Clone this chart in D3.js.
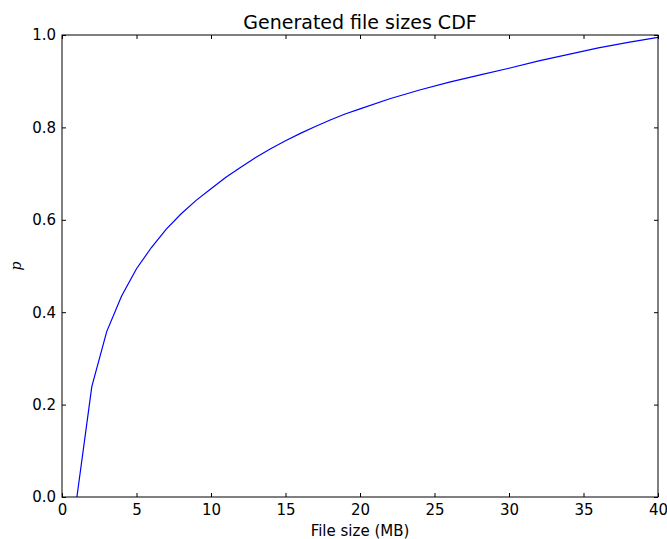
<!DOCTYPE html>
<html>
<head>
<meta charset="utf-8">
<script src="https://cdn.jsdelivr.net/npm/d3@7"></script>
<style>
  body { margin: 0; background: #fff; }
  svg text { font-family: "DejaVu Sans", sans-serif; fill: #000; }
</style>
</head>
<body>
<div id="chartArea"></div>
<script>
// file size in MB and cumulative probability
const sizes = [1, 2, 3, 4, 5, 6, 7, 8, 9, 10, 11, 12, 13, 14, 15, 16, 17, 18, 19, 20,
    22, 24, 26, 28, 30, 32, 34, 36, 38, 40];
const probs = [0, 0.239, 0.358, 0.435, 0.494, 0.540, 0.580, 0.613, 0.642, 0.667, 0.692,
    0.714, 0.735, 0.754, 0.771, 0.787, 0.802, 0.816, 0.829, 0.840,
    0.862, 0.881, 0.898, 0.913, 0.928, 0.944, 0.958, 0.972, 0.984, 0.995];
const xTicks = [0, 5, 10, 15, 20, 25, 30, 35, 40];
const yTicks = [0, 0.2, 0.4, 0.6, 0.8, 1.0];

const margin = { top: 35, right: 9, bottom: 42, left: 62 },
    width = 667 - margin.left - margin.right,
    height = 539 - margin.top - margin.bottom;

const svg = d3.select("#chartArea").append("svg")
    .attr("width", 667)
    .attr("height", 539);
const g = svg.append("g")
    .attr("transform", `translate(${margin.left},${margin.top})`);

const x = d3.scaleLinear().domain([0, 40]).range([0, width]);
const y = d3.scaleLinear().domain([0, 1]).range([height, 0]);

// curve
const data = sizes.map((s, i) => ({ s, p: probs[i] }));
g.append("path")
    .datum(data)
    .attr("fill", "none")
    .attr("stroke", "#0000ff")
    .attr("stroke-width", 1.2)
    .attr("d", d3.line().x(d => x(d.s)).y(d => y(d.p)));

// axes, ticks pointing inward on all sides
const fmtY = d3.format(".1f");
const axBottom = g.append("g").attr("transform", `translate(0,${height})`)
    .call(d3.axisBottom(x).tickValues(xTicks).tickSize(-4).tickPadding(7));
const axTop = g.append("g")
    .call(d3.axisTop(x).tickValues(xTicks).tickSize(-4).tickFormat(""));
const axLeft = g.append("g")
    .call(d3.axisLeft(y).tickValues(yTicks).tickSize(-4).tickPadding(6).tickFormat(fmtY));
const axRight = g.append("g").attr("transform", `translate(${width},0)`)
    .call(d3.axisRight(y).tickValues(yTicks).tickSize(-4).tickFormat(""));

[axBottom, axTop, axLeft, axRight].forEach(a => {
    a.select(".domain").remove();
    a.selectAll("line").attr("stroke", "#000");
    a.selectAll("text").style("font-size", "15px");
});

g.append("rect")
    .attr("width", width)
    .attr("height", height)
    .attr("fill", "none")
    .attr("stroke", "#000")
    .attr("stroke-width", 1);

// labels
svg.append("text")
    .attr("x", margin.left + width / 2)
    .attr("y", 28.5)
    .attr("text-anchor", "middle")
    .style("font-size", "19px")
    .text("Generated file sizes CDF");

svg.append("text")
    .attr("x", margin.left + width / 2)
    .attr("y", 535.5)
    .attr("text-anchor", "middle")
    .style("font-size", "15px")
    .text("File size (MB)");

svg.append("text")
    .attr("transform", `translate(20.5,${margin.top + height / 2}) rotate(-90)`)
    .attr("text-anchor", "middle")
    .style("font-family", "DejaVu Serif, serif")
    .style("font-style", "italic")
    .style("font-size", "14px")
    .text("p");
</script>
</body>
</html>
